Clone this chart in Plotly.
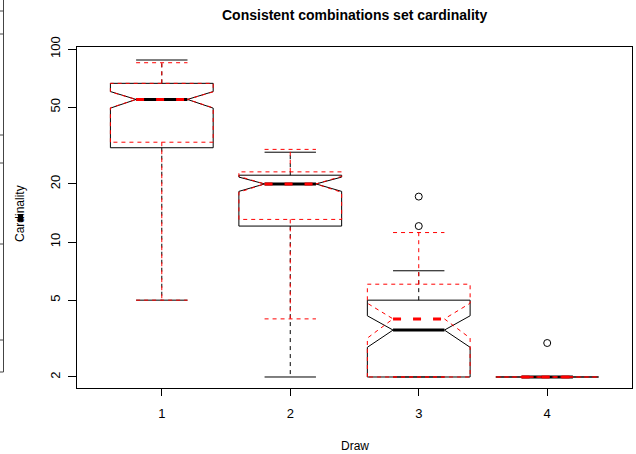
import plotly.graph_objects as go

# ---- data ----
draws = [1, 2, 3, 4]

# series A: black, solid boxes
a_low = [5.0, 2.0, 2.0, 2.0]
a_q1 = [30.8, 12.1, 2.0, 2.0]
a_med = [54.8, 20.0, 3.5, 2.0]
a_q3 = [66.4, 22.2, 5.0, 2.0]
a_high = [87.7, 29.2, 7.1, 2.0]
a_notch = [5.4, 1.7, 0.65, 0.0]
a_out_x = [3, 3, 4]
a_out_y = [17.2, 12.1, 3.0]

# series B: red, dashed boxes
b_low = [5.0, 4.0, 2.0, 2.0]
b_q1 = [32.9, 13.1, 2.0, 2.0]
b_med = [54.8, 20.0, 4.0, 2.0]
b_q3 = [66.4, 23.1, 6.05, 2.0]
b_high = [84.9, 30.2, 11.2, 2.0]
b_notch = [5.2, 1.9, 0.82, 0.0]

y_ticks = [2, 5, 10, 20, 50, 100]

BOXWEX = 0.8
HALF = BOXWEX / 2


def series_traces(low, q1, med, q3, high, notch, color, box_dash, whisk_dash, cap_dash, med_dash):
    bx, by = [], []
    wx, wy = [], []
    cx, cy = [], []
    mx, my = [], []
    for p, lo, a, m, b, hi, n in zip(draws, low, q1, med, q3, high, notch):
        x0, x1 = p - HALF, p + HALF
        xm0, xm1 = p - HALF / 2, p + HALF / 2
        nlo, nhi = m - n, m + n
        bx += [x0, x0, xm0, x0, x0, x1, x1, xm1, x1, x1, x0, None]
        by += [a, nlo, m, nhi, b, b, nhi, m, nlo, a, a, None]
        wx += [p, p, None, p, p, None]
        wy += [b, hi, None, a, lo, None]
        cx += [xm0, xm1, None, xm0, xm1, None]
        cy += [hi, hi, None, lo, lo, None]
        mx += [xm0, xm1, None]
        my += [m, m, None]
    common = dict(mode="lines", hoverinfo="skip", showlegend=False)
    return [
        go.Scatter(x=wx, y=wy, line=dict(color=color, width=1, dash=whisk_dash), **common),
        go.Scatter(x=cx, y=cy, line=dict(color=color, width=1, dash=cap_dash), **common),
        go.Scatter(x=bx, y=by, line=dict(color=color, width=1, dash=box_dash), **common),
        go.Scatter(x=mx, y=my, line=dict(color=color, width=3, dash=med_dash), **common),
    ]


fig = go.Figure()
for t in series_traces(a_low, a_q1, a_med, a_q3, a_high, a_notch, "black",
                       "solid", "4px,4px", "solid", "solid"):
    fig.add_trace(t)
fig.add_trace(go.Scatter(x=a_out_x, y=a_out_y, mode="markers", showlegend=False,
                         hoverinfo="skip",
                         marker=dict(symbol="circle-open", size=7, color="black",
                                     line=dict(width=1, color="black"))))
for t in series_traces(b_low, b_q1, b_med, b_q3, b_high, b_notch, "red",
                       "4px,4px", "4px,4px", "4px,4px", "8px,12px"):
    fig.add_trace(t)

W, H = 636, 454
L, R, T, B = 77, 4, 47, 66
PW, PH = W - L - R, H - T - B


def px(xp):
    return (xp - L) / PW


def py(yp):
    return (H - B - yp) / PH


font = "Liberation Sans, Arial, Helvetica, sans-serif"

fig.update_layout(
    template="none",
    width=W, height=H,
    margin=dict(l=L, r=R, t=T, b=B, pad=0),
    paper_bgcolor="white", plot_bgcolor="white",
    font=dict(family=font, size=12, color="black"),
    showlegend=False,
    xaxis=dict(range=[0.34, 4.66], tickvals=draws, ticktext=[str(d) for d in draws],
               showgrid=False, zeroline=False, showline=True, mirror=True,
               linecolor="black", linewidth=1, ticks="outside", ticklen=7,
               tickcolor="black", ticklabelstandoff=6,
               tickfont=dict(family=font, size=13, color="black")),
    yaxis=dict(type="log", range=[0.244, 2.0104], tickvals=y_ticks,
               ticktext=[str(v) for v in y_ticks], tickangle=-90,
               showgrid=False, zeroline=False, showline=True, mirror=True,
               linecolor="black", linewidth=1, ticks="outside", ticklen=8,
               tickcolor="black", ticklabelstandoff=3,
               tickfont=dict(family=font, size=13, color="black")),
    annotations=[
        dict(text="<b>Consistent combinations set cardinality</b>", xref="paper", yref="paper",
             x=0.5, y=py(15), showarrow=False, font=dict(family=font, size=14, color="black"),
             xanchor="center", yanchor="middle"),
        dict(text="Draw", xref="paper", yref="paper", x=0.5, y=py(446), showarrow=False,
             font=dict(family=font, size=12, color="black"), xanchor="center", yanchor="middle"),
        dict(text="Cardinality", xref="paper", yref="paper", x=px(20), y=py(214),
             showarrow=False, textangle=-90, font=dict(family=font, size=12, color="black"),
             xanchor="center", yanchor="middle"),
    ],
)

# stray axis fragment at the far left edge of the reference image
shapes = [dict(type="line", xref="paper", yref="paper", x0=px(3.5), x1=px(3.5),
               y0=py(0), y1=py(372), line=dict(color="#444", width=1))]
for yy in [11, 34, 135, 163, 244, 340, 372]:
    shapes.append(dict(type="line", xref="paper", yref="paper", x0=px(0), x1=px(3.5),
                       y0=py(yy), y1=py(yy), line=dict(color="#444", width=1)))
shapes.append(dict(type="rect", xref="paper", yref="paper", x0=px(18), x1=px(23),
                   y0=py(221), y1=py(214), fillcolor="black", line=dict(width=0)))
fig.update_layout(shapes=shapes)

fig.write_html(
    "out.html",
    config={"displayModeBar": False, "staticPlot": True},
    post_script="document.body.style.margin='0';document.body.style.overflow='hidden';",
)
